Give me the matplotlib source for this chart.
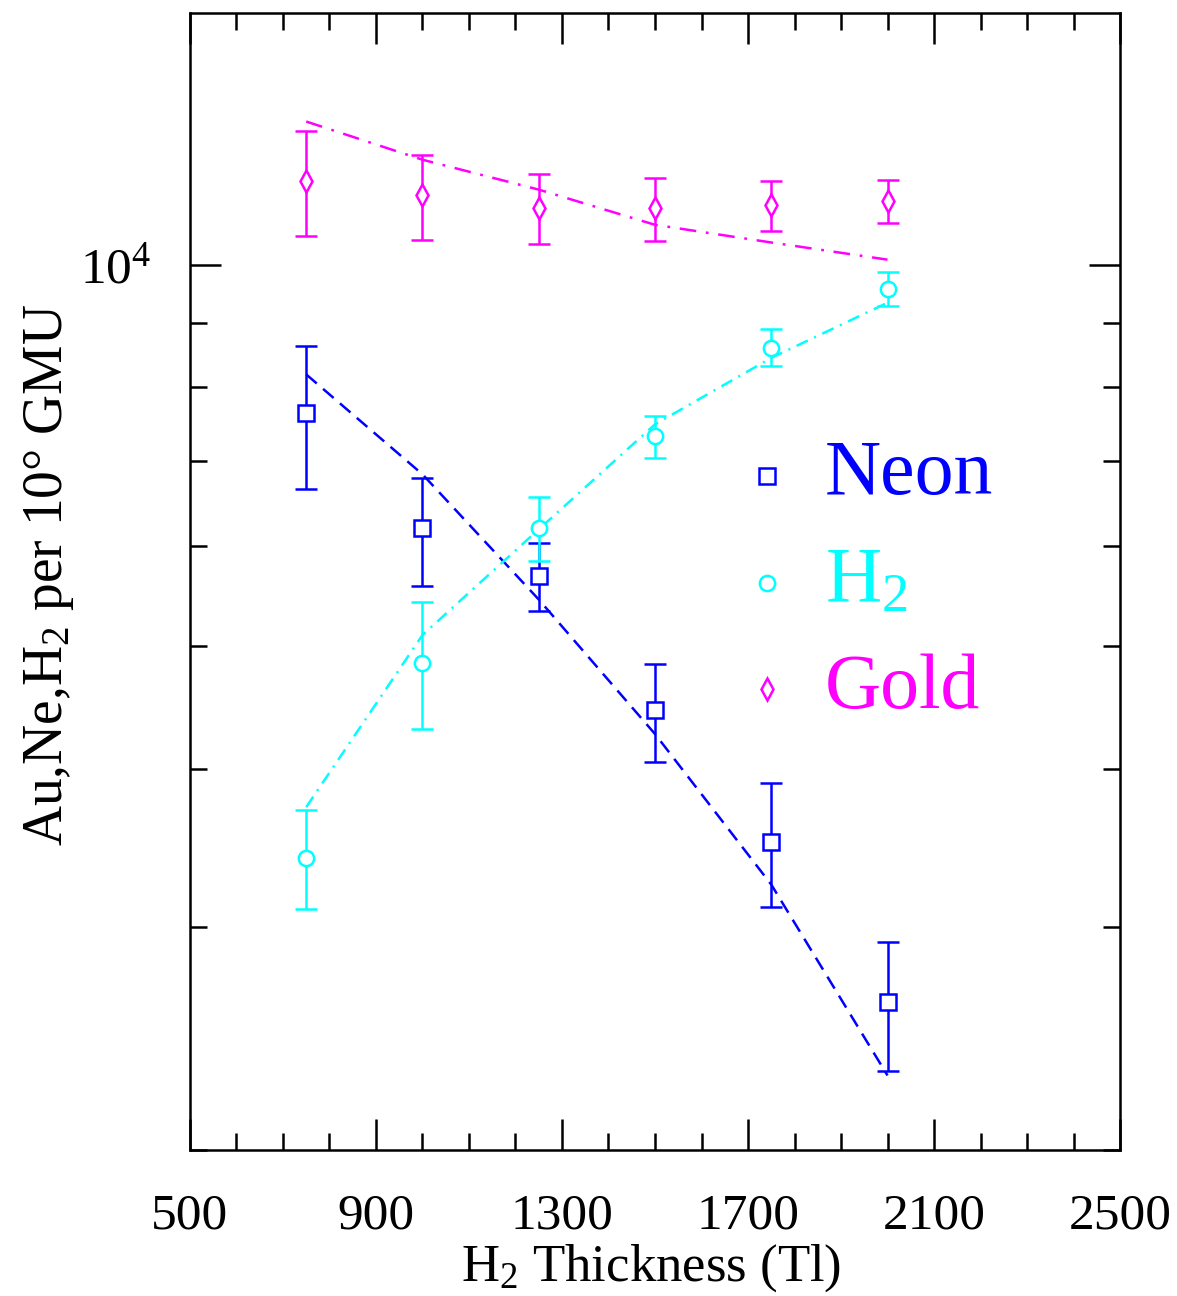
import numpy as np
import matplotlib
matplotlib.use("Agg")
import matplotlib.pyplot as plt
from matplotlib.ticker import LogLocator, NullFormatter, LogFormatterMathtext, MultipleLocator

plt.rcParams['font.family'] = ['Liberation Serif', 'DejaVu Serif']
plt.rcParams['mathtext.fontset'] = 'custom'
plt.rcParams['mathtext.rm'] = 'Liberation Serif'
plt.rcParams['mathtext.it'] = 'Liberation Serif'
plt.rcParams['lines.scale_dashes'] = False

# H2 thickness values
thickness = [750, 1000, 1250, 1500, 1750, 2000]
x_ticks = [500, 900, 1300, 1700, 2100, 2500]

# Neon
neon = [7640, 6190, 5680, 4450, 3500, 2615]
neon_hi = [8620, 6790, 6030, 4840, 3900, 2920]
neon_lo = [6655, 5580, 5330, 4050, 3110, 2310]
neon_fit = [8190, 6830, 5440, 4260, 3240, 2290]

# H2
h2 = [3400, 4850, 6200, 7320, 8590, 9570]
h2_hi = [3710, 5420, 6560, 7600, 8890, 9870]
h2_lo = [3100, 4300, 5830, 7030, 8310, 9280]
h2_fit = [3730, 5100, 6180, 7480, 8440, 9330]

# Gold
gold = [11650, 11340, 11090, 11090, 11150, 11230]
gold_hi = [12740, 12210, 11780, 11710, 11650, 11670]
gold_lo = [10540, 10460, 10390, 10430, 10620, 10790]
gold_fit = [12970, 12100, 11460, 10750, 10410, 10090]

fig = plt.figure(figsize=(11.77, 12.96), dpi=100)
ax = fig.add_axes([0.1614, 0.1127, 0.7902, 0.8773])

lw = 1.8
series = [
    (neon, neon_lo, neon_hi, neon_fit, 'blue', 's', (0, (10, 6))),
    (h2, h2_lo, h2_hi, h2_fit, 'cyan', 'o', (0, (9, 5, 1.5, 5))),
    (gold, gold_lo, gold_hi, gold_fit, 'magenta', 'd', (0, (12, 7, 2, 7))),
]
for vals, lo, hi, fit, col, mk, ls in series:
    vals = np.array(vals)
    yerr = [vals - np.array(lo), np.array(hi) - vals]
    ax.errorbar(thickness, vals, yerr=yerr, fmt=mk, color=col, mfc='white',
                mec=col, mew=lw, ms=11, elinewidth=lw, capsize=8, capthick=lw,
                zorder=3)
    ax.plot(thickness, fit, color=col, lw=lw, linestyle=ls, zorder=2)

ax.set_yscale('log')
ax.set_xlim(500, 2500)
ax.set_ylim(2000, 15800)

ax.set_xticks(x_ticks)
ax.xaxis.set_minor_locator(MultipleLocator(100))
ax.yaxis.set_major_locator(LogLocator(base=10))
ax.yaxis.set_major_formatter(LogFormatterMathtext())
ax.yaxis.set_minor_locator(LogLocator(base=10, subs=np.arange(2, 10)))
ax.yaxis.set_minor_formatter(NullFormatter())

ax.tick_params(which='both', direction='in', top=True, right=True, width=lw,
               labelsize=37)
ax.tick_params(which='major', length=22)
ax.tick_params(which='minor', length=12)
ax.tick_params(axis='x', which='major', pad=31)
ax.tick_params(axis='y', which='major', pad=28)
for s in ax.spines.values():
    s.set_linewidth(lw)

ax.set_xlabel('H$_2$ Thickness (Tl)', fontsize=38, va='center')
ax.xaxis.set_label_coords(0.496, -0.104)
ax.set_ylabel('Au,Ne,H$_2$ per 10° GMU', fontsize=40, va='center')
ax.yaxis.set_label_coords(-0.152, 0.506)

# legend drawn as markers and coloured text
leg = [('Neon', 'blue', 's', 0.593), ('H$_2$', 'cyan', 'o', 0.499),
       ('Gold', 'magenta', 'd', 0.405)]
for name, col, mk, yy in leg:
    ax.plot([0.620], [yy], marker=mk, color=col, mfc='white', mec=col,
            mew=lw, ms=11, transform=ax.transAxes, linestyle='none')
    ax.text(0.683, yy, name, color=col, fontsize=56, va='center', ha='left',
            transform=ax.transAxes)

fig.savefig('out.png', dpi=100)
